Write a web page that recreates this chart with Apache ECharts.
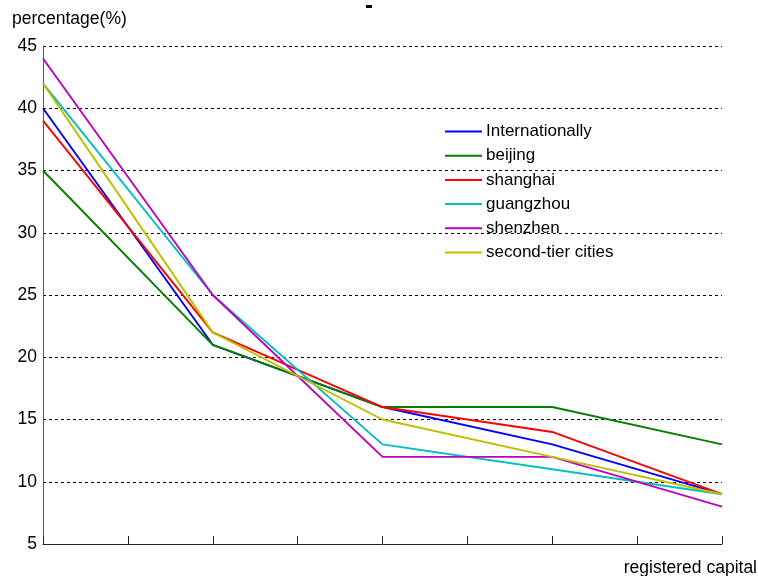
<!DOCTYPE html>
<html><head><meta charset="utf-8">
<script src="https://cdn.jsdelivr.net/npm/echarts@6/dist/echarts.min.js"></script>
<style>html,body{margin:0;padding:0;background:#fff}#c{width:758px;height:576px}</style>
</head><body><div id="c"></div>
<script>
const xPositions = [0, 2, 4, 6, 8];
const seriesNames = ['Internationally','beijing','shanghai','guangzhou','shenzhen','second-tier cities'];
const internationally = [40, 21, 16, 13, 9];
const beijing = [35, 21, 16, 16, 13];
const shanghai = [39, 22, 16, 14, 9];
const guangzhou = [42, 25, 13, 11, 9];
const shenzhen = [44, 25, 12, 12, 8];
const secondTier = [42, 22, 15, 12, 9];
const colors = ['#0000ff','#008000','#ff0000','#00bfbf','#bf00bf','#bfbf00'];
const yTicks = [5,10,15,20,25,30,35,40,45];

const allData = [internationally, beijing, shanghai, guangzhou, shenzhen, secondTier];
const chart = echarts.init(document.getElementById('c'));
const font = 'Liberation Sans, Arial, sans-serif';
chart.setOption({
  animation: false,
  backgroundColor: '#fff',
  color: colors,
  grid: {left: 43, right: 36, top: 46, bottom: 32, containLabel: false},
  legend: {
    orient: 'vertical', left: 440, top: 118,
    itemWidth: 37, itemHeight: 14, itemGap: 7.2,
    icon: 'path://M0,6 L37,6 L37,8 L0,8 Z',
    textStyle: {fontFamily: font, fontSize: 17, color: '#000', padding: [0,0,0,-1], lineHeight: 15},
    data: seriesNames
  },
  xAxis: {
    type: 'value', min: 0, max: 8, interval: 1,
    axisLine: {show: true, lineStyle: {color: '#222', width: 1}},
    axisTick: {show: true, inside: true, length: 8, lineStyle: {color: '#222'}},
    axisLabel: {show: false},
    splitLine: {show: false}
  },
  yAxis: {
    type: 'value', min: 5, max: 45, interval: 5,
    axisLine: {show: true, lineStyle: {color: '#555', width: 1}},
    axisTick: {show: false},
    axisLabel: {fontFamily: font, fontSize: 17.5, color: '#000', margin: 6,
      formatter: v => yTicks.includes(v) ? String(v) : ''},
    splitLine: {show: true, lineStyle: {color: '#000', type: [3, 3], width: 1}}
  },
  graphic: [
    {type: 'text', left: 12, top: 10, style: {text: 'percentage(%)', font: '17.5px ' + font, fill: '#000'}},
    {type: 'text', right: 1, top: 559, style: {text: 'registered capital', font: '17.5px ' + font, fill: '#000'}},
    {type: 'rect', shape: {x: 366, y: 5, width: 6, height: 3}, style: {fill: '#000'}}
  ],
  series: seriesNames.map((n, i) => ({
    name: n, type: 'line', showSymbol: false, symbol: 'none',
    lineStyle: {width: 1.9, color: colors[i]},
    data: allData[i].map((v, j) => [xPositions[j], v])
  }))
});
</script></body></html>
